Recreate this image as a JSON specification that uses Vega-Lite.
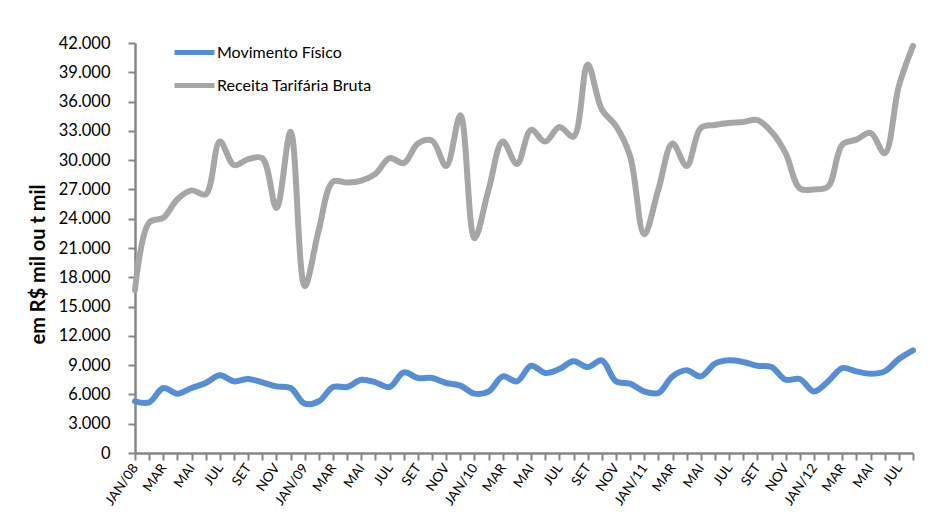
{
  "$schema": "https://vega.github.io/schema/vega-lite/v6.json",
  "width": 778,
  "height": 410,
  "autosize": {"type": "none"},
  "padding": {"left": 135, "top": 43, "right": 18, "bottom": 74},
  "background": "white",
  "config": {
    "view": {"stroke": null},
    "font": "Lato",
    "axis": {"grid": false, "domainColor": "#868686", "domainWidth": 2.5, "tickColor": "#868686", "tickWidth": 2, "tickSize": 7, "labelColor": "#000000", "labelFont": "Lato"}
  },
  "data": {
    "values": [
      {"mes": "JAN/08", "Movimento Físico": 5290, "Receita Tarifária Bruta": 16700},
      {"mes": "FEV/08", "Movimento Físico": 5190, "Receita Tarifária Bruta": 23600},
      {"mes": "MAR/08", "Movimento Físico": 6660, "Receita Tarifária Bruta": 24100},
      {"mes": "ABR/08", "Movimento Físico": 6080, "Receita Tarifária Bruta": 26000},
      {"mes": "MAI/08", "Movimento Físico": 6660, "Receita Tarifária Bruta": 26900},
      {"mes": "JUN/08", "Movimento Físico": 7170, "Receita Tarifária Bruta": 26500},
      {"mes": "JUL/08", "Movimento Físico": 7960, "Receita Tarifária Bruta": 31900},
      {"mes": "AGO/08", "Movimento Físico": 7340, "Receita Tarifária Bruta": 29500},
      {"mes": "SET/08", "Movimento Físico": 7580, "Receita Tarifária Bruta": 30100},
      {"mes": "OUT/08", "Movimento Físico": 7240, "Receita Tarifária Bruta": 30200},
      {"mes": "NOV/08", "Movimento Físico": 6830, "Receita Tarifária Bruta": 25100},
      {"mes": "DEZ/08", "Movimento Físico": 6660, "Receita Tarifária Bruta": 32900},
      {"mes": "JAN/09", "Movimento Físico": 5050, "Receita Tarifária Bruta": 17100},
      {"mes": "FEV/09", "Movimento Físico": 5300, "Receita Tarifária Bruta": 22900},
      {"mes": "MAR/09", "Movimento Físico": 6760, "Receita Tarifária Bruta": 27800},
      {"mes": "ABR/09", "Movimento Físico": 6760, "Receita Tarifária Bruta": 27700},
      {"mes": "MAI/09", "Movimento Físico": 7500, "Receita Tarifária Bruta": 27900},
      {"mes": "JUN/09", "Movimento Físico": 7240, "Receita Tarifária Bruta": 28600},
      {"mes": "JUL/09", "Movimento Físico": 6760, "Receita Tarifária Bruta": 30200},
      {"mes": "AGO/09", "Movimento Físico": 8260, "Receita Tarifária Bruta": 29700},
      {"mes": "SET/09", "Movimento Físico": 7680, "Receita Tarifária Bruta": 31700},
      {"mes": "OUT/09", "Movimento Físico": 7680, "Receita Tarifária Bruta": 32000},
      {"mes": "NOV/09", "Movimento Físico": 7170, "Receita Tarifária Bruta": 29400},
      {"mes": "DEZ/09", "Movimento Físico": 6900, "Receita Tarifária Bruta": 34600},
      {"mes": "JAN/10", "Movimento Físico": 6080, "Receita Tarifária Bruta": 22000},
      {"mes": "FEV/10", "Movimento Físico": 6300, "Receita Tarifária Bruta": 27000},
      {"mes": "MAR/10", "Movimento Físico": 7850, "Receita Tarifária Bruta": 31900},
      {"mes": "ABR/10", "Movimento Físico": 7340, "Receita Tarifária Bruta": 29600},
      {"mes": "MAI/10", "Movimento Físico": 8940, "Receita Tarifária Bruta": 33100},
      {"mes": "JUN/10", "Movimento Físico": 8200, "Receita Tarifária Bruta": 31900},
      {"mes": "JUL/10", "Movimento Físico": 8600, "Receita Tarifária Bruta": 33400},
      {"mes": "AGO/10", "Movimento Físico": 9390, "Receita Tarifária Bruta": 32400},
      {"mes": "SET/10", "Movimento Físico": 8800, "Receita Tarifária Bruta": 39800},
      {"mes": "OUT/10", "Movimento Físico": 9490, "Receita Tarifária Bruta": 35200},
      {"mes": "NOV/10", "Movimento Físico": 7340, "Receita Tarifária Bruta": 33500},
      {"mes": "DEZ/10", "Movimento Físico": 7100, "Receita Tarifária Bruta": 30400},
      {"mes": "JAN/11", "Movimento Físico": 6300, "Receita Tarifária Bruta": 22400},
      {"mes": "FEV/11", "Movimento Físico": 6150, "Receita Tarifária Bruta": 27000},
      {"mes": "MAR/11", "Movimento Físico": 7850, "Receita Tarifária Bruta": 31700},
      {"mes": "ABR/11", "Movimento Físico": 8470, "Receita Tarifária Bruta": 29400},
      {"mes": "MAI/11", "Movimento Físico": 7850, "Receita Tarifária Bruta": 33300},
      {"mes": "JUN/11", "Movimento Físico": 9150, "Receita Tarifária Bruta": 33600},
      {"mes": "JUL/11", "Movimento Físico": 9490, "Receita Tarifária Bruta": 33800},
      {"mes": "AGO/11", "Movimento Físico": 9320, "Receita Tarifária Bruta": 33900},
      {"mes": "SET/11", "Movimento Físico": 8940, "Receita Tarifária Bruta": 34100},
      {"mes": "OUT/11", "Movimento Físico": 8800, "Receita Tarifária Bruta": 32900},
      {"mes": "NOV/11", "Movimento Físico": 7500, "Receita Tarifária Bruta": 30700},
      {"mes": "DEZ/11", "Movimento Físico": 7580, "Receita Tarifária Bruta": 27100},
      {"mes": "JAN/12", "Movimento Físico": 6300, "Receita Tarifária Bruta": 27000},
      {"mes": "FEV/12", "Movimento Físico": 7340, "Receita Tarifária Bruta": 27300},
      {"mes": "MAR/12", "Movimento Físico": 8700, "Receita Tarifária Bruta": 31600},
      {"mes": "ABR/12", "Movimento Físico": 8360, "Receita Tarifária Bruta": 32100},
      {"mes": "MAI/12", "Movimento Físico": 8120, "Receita Tarifária Bruta": 32800},
      {"mes": "JUN/12", "Movimento Físico": 8360, "Receita Tarifária Bruta": 30700},
      {"mes": "JUL/12", "Movimento Físico": 9630, "Receita Tarifária Bruta": 37600},
      {"mes": "AGO/12", "Movimento Físico": 10520, "Receita Tarifária Bruta": 41700}
    ]
  },
  "transform": [
    {"fold": ["Movimento Físico", "Receita Tarifária Bruta"], "as": ["serie", "valor"]}
  ],
  "mark": {"type": "line", "interpolate": "catmull-rom", "strokeWidth": 6, "strokeCap": "round", "strokeJoin": "round"},
  "encoding": {
    "x": {
      "field": "mes",
      "type": "ordinal",
      "sort": null,
      "scale": {"type": "point", "padding": 0},
      "axis": {
        "title": null,
        "labelAngle": -55,
        "labelAlign": "right",
        "labelBaseline": "middle",
        "labelFontSize": 13.5,
        "labelPadding": 5,
        "labelOverlap": false,
        "labelExpr": "indexof(['JAN','MAR','MAI','JUL','SET','NOV'], slice(datum.value,0,3)) < 0 ? '' : (slice(datum.value,0,3) == 'JAN' ? datum.value : slice(datum.value,0,3))"
      }
    },
    "y": {
      "field": "valor",
      "type": "quantitative",
      "scale": {"domain": [0, 42000], "nice": false},
      "axis": {
        "values": [0, 3000, 6000, 9000, 12000, 15000, 18000, 21000, 24000, 27000, 30000, 33000, 36000, 39000, 42000],
        "labelExpr": "replace(format(datum.value, ','), ',', '.')",
        "labelFontSize": 16.5,
        "labelPadding": 18,
        "title": "em R$ mil ou t mil",
        "titleFontSize": 20,
        "titleFontWeight": "bold",
        "titleColor": "#000000",
        "titleX": -97,
        "titleY": 221,
        "titleAlign": "center",
        "titleBaseline": "middle"
      }
    },
    "color": {
      "field": "serie",
      "type": "nominal",
      "scale": {"domain": ["Movimento Físico", "Receita Tarifária Bruta"], "range": ["#558ED5", "#A6A6A6"]},
      "legend": {
        "title": null,
        "orient": "none",
        "legendX": 37,
        "legendY": -13,
        "symbolType": "stroke",
        "symbolSize": 1600,
        "symbolStrokeWidth": 5,
        "labelFontSize": 16,
        "labelColor": "#000000",
        "labelOffset": 0,
        "rowPadding": -13
      }
    }
  }
}
